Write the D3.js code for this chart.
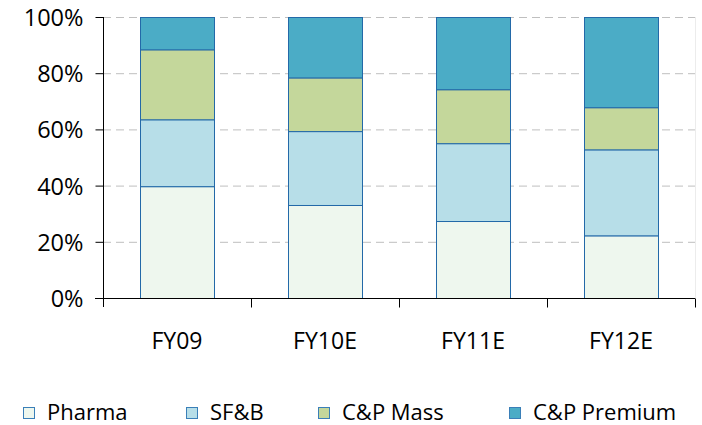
<!DOCTYPE html>
<html>
<head>
<meta charset="utf-8">
<script src="https://cdn.jsdelivr.net/npm/d3@7"></script>
<style>
  body { margin: 0; background: #fff; }
  text { font-family: "Open Sans", sans-serif; fill: #000; }
</style>
</head>
<body>
<div id="chart"></div>
<script>
const categories = ["FY09", "FY10E", "FY11E", "FY12E"];
const pharma = [39.8, 33.1, 27.4, 22.3];
const sfb = [23.8, 26.3, 27.7, 30.6];
const cpMass = [24.9, 19.1, 19.2, 15.0];
const cpPremium = [11.5, 21.5, 25.7, 32.1];
const seriesNames = ["Pharma", "SF&B", "C&P Mass", "C&P Premium"];
const yTicks = [0, 20, 40, 60, 80, 100];

const colors = ["#eef7ee", "#b7dee8", "#c4d79b", "#4bacc6"];

const width = 702, height = 425;

const svg = d3.select("#chart")
  .append("svg")
  .attr("width", width)
  .attr("height", height);

const rows = categories.map((c, i) => ({
  cat: c,
  "Pharma": pharma[i],
  "SF&B": sfb[i],
  "C&P Mass": cpMass[i],
  "C&P Premium": cpPremium[i]
}));

const stacked = d3.stack().keys(seriesNames)(rows);

const x = d3.scaleBand()
  .domain(categories)
  .range([103, 695])
  .paddingInner(0.5)
  .paddingOuter(0.25);

const y = d3.scaleLinear()
  .domain([0, 100])
  .range([298, 17]);

// gridlines
svg.append("g")
  .selectAll("line")
  .data(yTicks.filter(d => d > 0))
  .join("line")
    .attr("x1", 103)
    .attr("x2", 695)
    .attr("y1", d => y(d) + 0.5)
    .attr("y2", d => y(d) + 0.5)
    .attr("stroke", "#bfbfbf")
    .attr("stroke-dasharray", "8,5");

svg.append("line")
  .attr("x1", 695.5).attr("x2", 695.5)
  .attr("y1", y(100)).attr("y2", y(0))
  .attr("stroke", "#ececec");

// bars
svg.append("g")
  .selectAll("g")
  .data(stacked)
  .join("g")
    .attr("fill", (d, i) => colors[i])
  .selectAll("rect")
  .data(d => d)
  .join("rect")
    .attr("x", d => x(d.data.cat) + 0.5)
    .attr("y", d => y(d[1]) + 0.5)
    .attr("width", x.bandwidth())
    .attr("height", d => y(d[0]) - y(d[1]))
    .attr("stroke", "#2369a8")
    .attr("stroke-width", 1);

// y axis
const yAxis = svg.append("g")
  .attr("transform", "translate(103.5,0)")
  .call(d3.axisLeft(y)
    .tickValues(yTicks)
    .tickFormat(d => d + "%")
    .tickSize(8)
    .tickPadding(12));
yAxis.select(".domain").remove();
yAxis.selectAll(".tick line").attr("stroke", "#000");
yAxis.selectAll("text")
  .style("font-size", "23.5px")
  .attr("dy", "0.36em");
yAxis.append("line")
  .attr("y1", y(100)).attr("y2", 307)
  .attr("stroke", "#000");

// x axis
const xAxis = svg.append("g")
  .attr("transform", "translate(0,298.5)");
xAxis.append("line")
  .attr("x1", 95).attr("x2", 695)
  .attr("stroke", "#000");
xAxis.selectAll(".sep")
  .data(d3.range(1, categories.length + 1))
  .join("line")
    .attr("class", "sep")
    .attr("x1", i => Math.round(x.range()[0] + i * x.step()) + 0.5)
    .attr("x2", i => Math.round(x.range()[0] + i * x.step()) + 0.5)
    .attr("y1", 0)
    .attr("y2", 9)
    .attr("stroke", "#000");
xAxis.selectAll(".lbl")
  .data(categories)
  .join("text")
    .attr("class", "lbl")
    .attr("x", d => x(d) + x.bandwidth() / 2)
    .attr("y", 50)
    .attr("text-anchor", "middle")
    .style("font-size", "23px")
    .text(d => d);

// legend
const legendX = [23, 186, 318, 509];
const legend = svg.append("g")
  .selectAll("g")
  .data(seriesNames)
  .join("g")
    .attr("transform", (d, i) => `translate(${legendX[i]},407)`);
legend.append("rect")
  .attr("x", 0.5).attr("y", 0.5)
  .attr("width", 11).attr("height", 11)
  .attr("fill", (d, i) => colors[i])
  .attr("stroke", "#3a7fb8");
legend.append("text")
  .attr("x", 24)
  .attr("y", 13)
  .style("font-size", "22px")
  .text(d => d);
</script>
</body>
</html>
